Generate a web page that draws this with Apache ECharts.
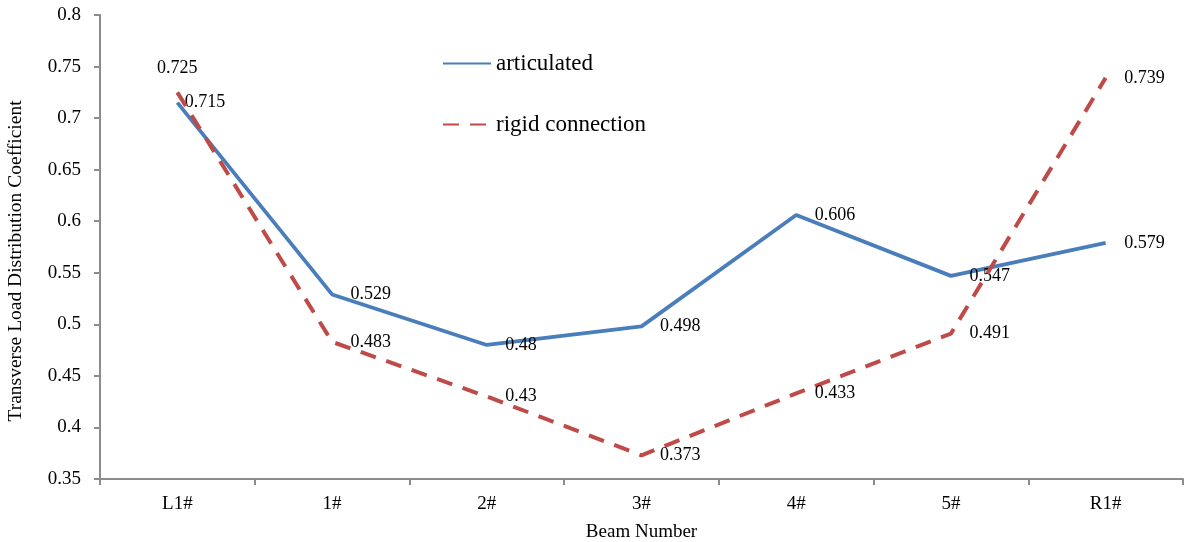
<!DOCTYPE html>
<html>
<head>
<meta charset="utf-8">
<style>
  html, body { margin: 0; padding: 0; background: #ffffff; }
  #chart { width: 1184px; height: 542px; }
</style>
<script src="https://cdn.jsdelivr.net/npm/echarts@6/dist/echarts.min.js"></script>
</head>
<body>
<div id="chart"></div>
<script>
// Beam positions across the deck
const categories = ['L1#', '1#', '2#', '3#', '4#', '5#', 'R1#'];
// Transverse load distribution coefficient per beam
const articulated = [0.715, 0.529, 0.48, 0.498, 0.606, 0.547, 0.579];
const rigidConnection = [0.725, 0.483, 0.43, 0.373, 0.433, 0.491, 0.739];

const SERIF = "'Liberation Serif', 'Times New Roman', serif";
const BLUE = '#4a7ebb';
const RED = '#be4b48';
const CLEAR = 'rgba(0,0,0,0)';

const chart = echarts.init(document.getElementById('chart'), null, { renderer: 'canvas' });

// The first point of each line gets its own label placement
function labelData(values, firstOverride) {
  return values.map(function (v, i) {
    if (i === 0 && firstOverride) {
      return { value: v, label: firstOverride };
    }
    return v;
  });
}

chart.setOption({
  backgroundColor: '#ffffff',
  animation: false,
  textStyle: { fontFamily: SERIF, color: '#000' },
  grid: { left: 100, right: 1, top: 15, bottom: 63, containLabel: false, outerBoundsMode: 'none' },
  legend: {
    orient: 'vertical',
    left: 437,
    top: 47,
    itemWidth: 48,
    itemHeight: 20,
    itemGap: 38,
    textStyle: { fontFamily: SERIF, fontSize: 23, color: '#000' },
    data: [
      { name: 'articulated', itemStyle: { color: CLEAR, borderColor: CLEAR } },
      { name: 'rigid connection', itemStyle: { color: CLEAR, borderColor: CLEAR } }
    ]
  },
  xAxis: {
    type: 'category',
    data: categories,
    boundaryGap: true,
    name: 'Beam Number',
    nameLocation: 'middle',
    nameGap: 44,
    nameTextStyle: { fontFamily: SERIF, fontSize: 19, color: '#000' },
    axisLine: { lineStyle: { color: '#8c8c8c', width: 2 } },
    axisTick: { show: true, length: 6, lineStyle: { color: '#8c8c8c', width: 2 } },
    axisLabel: { fontFamily: SERIF, fontSize: 19, color: '#000', margin: 16 },
    splitLine: { show: false }
  },
  yAxis: {
    type: 'value',
    min: 0.35,
    max: 0.8,
    interval: 0.05,
    name: 'Transverse Load Distribution Coefficient',
    nameLocation: 'middle',
    nameGap: 74,
    nameTextStyle: { fontFamily: SERIF, fontSize: 19.5, color: '#000', padding: [0, 28, 0, 0] },
    axisLine: { show: true, lineStyle: { color: '#8c8c8c', width: 2 } },
    axisTick: { show: true, length: 6, lineStyle: { color: '#8c8c8c', width: 2 } },
    axisLabel: {
      fontFamily: SERIF, fontSize: 19, color: '#000', margin: 19,
      formatter: function (v) { return String(Math.round(v * 100) / 100); }
    },
    splitLine: { show: false }
  },
  series: [
    {
      name: 'articulated',
      type: 'line',
      data: labelData(articulated, { position: 'right', distance: 6 }),
      symbol: 'circle',
      symbolSize: 2,
      showSymbol: true,
      lineStyle: { color: BLUE, width: 3.8 },
      itemStyle: { color: CLEAR, borderColor: CLEAR },
      label: {
        show: true, position: 'right', distance: 17,
        fontFamily: SERIF, fontSize: 18, color: '#000'
      },
      emphasis: { disabled: true },
      z: 2
    },
    {
      name: 'rigid connection',
      type: 'line',
      data: labelData(rigidConnection, { position: 'top', distance: 14 }),
      symbol: 'circle',
      symbolSize: 2,
      showSymbol: true,
      lineStyle: { color: RED, width: 4, type: [16, 11] },
      itemStyle: { color: CLEAR, borderColor: CLEAR },
      label: {
        show: true, position: 'right', distance: 17,
        fontFamily: SERIF, fontSize: 18, color: '#000'
      },
      emphasis: { disabled: true },
      z: 3
    }
  ]
});
</script>
</body>
</html>
